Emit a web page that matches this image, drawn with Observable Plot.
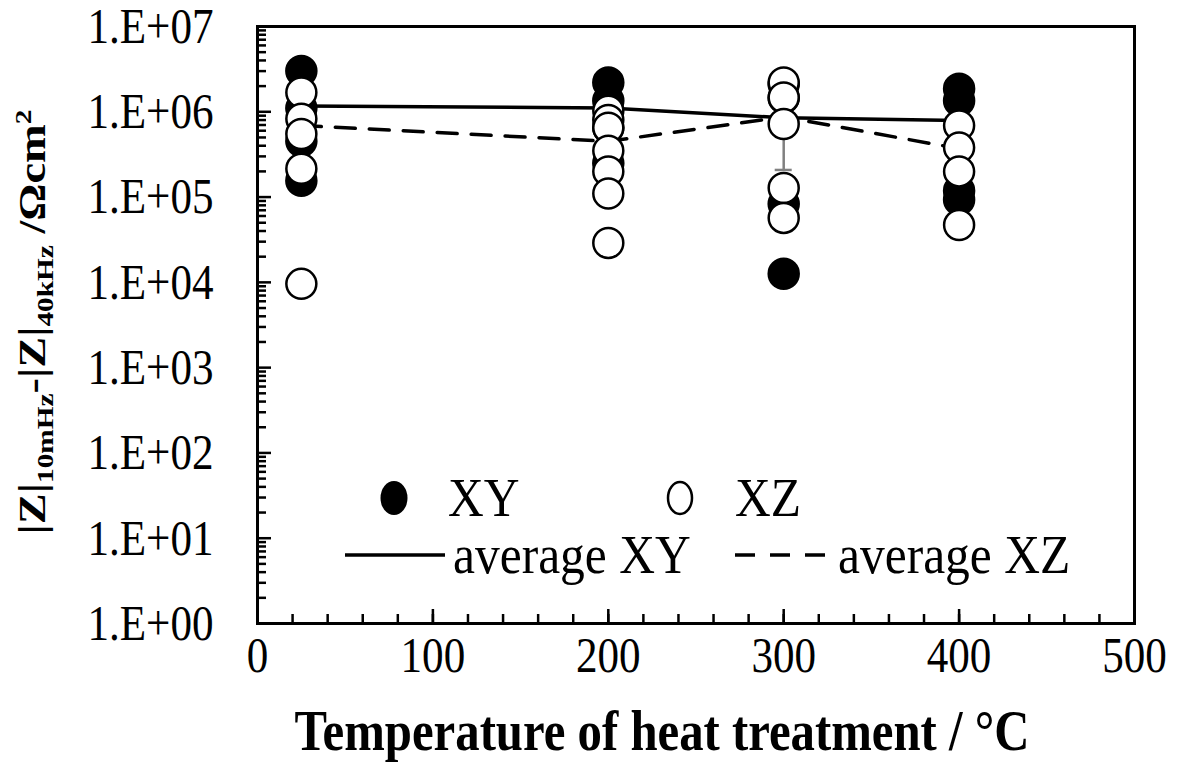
<!DOCTYPE html>
<html><head><meta charset="utf-8">
<script src="https://cdn.jsdelivr.net/npm/d3@7"></script>
<script src="https://cdn.jsdelivr.net/npm/@observablehq/plot@0.6"></script>
<style>html,body{margin:0;padding:0;background:#fff;}</style>
</head><body><div id="chart"></div>
<script>
// ---- data ----
const temps = [25, 200, 300, 400];
const xyValues = [
  [3.0e6, 1.1e6, 4.5e5, 1.55e5],
  [2.2e6, 1.35e6, 6.5e5, 2.5e5],
  [2.1e6, 1.45e6, 8.3e4, 1.26e4],
  [1.86e6, 1.35e6, 1.19e5, 9.3e4]
];
const xzValues = [
  [1.68e6, 8.3e5, 5.5e5, 2.15e5, 9.6e3],
  [1.03e6, 8.0e5, 6.5e5, 3.5e5, 2.0e5, 1.1e5, 2.9e4],
  [2.2e6, 1.47e6, 7.2e5, 1.28e5, 5.7e4],
  [6.9e5, 3.8e5, 2.0e5, 4.7e4]
];
const avgXY = [1.17e6, 1.11e6, 8.5e5, 7.9e5];
const avgXZ = [6.9e5, 4.5e5, 8.7e5, 3.7e5];
const errTemp = [300];
const errLow = [2.08e5];
const errHigh = [1.53e6];
const xTicks = [0, 100, 200, 300, 400, 500];
const xMinorTicks = d3.range(0, 501, 20);
const yTicks = [1, 10, 100, 1000, 1e4, 1e5, 1e6, 1e7];
const yTickLabels = ["1.E+00","1.E+01","1.E+02","1.E+03","1.E+04","1.E+05","1.E+06","1.E+07"];
const yMinorTicks = [];
for (let e = 0; e < 7; e++) for (let m = 2; m <= 9; m++) yMinorTicks.push(m * 10 ** e);

// ---- tables built from the arrays ----
const xyRows = temps.flatMap((t, i) => xyValues[i].map(v => ({t, v})));
const xzRows = temps.flatMap((t, i) => xzValues[i].map(v => ({t, v})));
const avgXYRows = temps.map((t, i) => ({t, v: avgXY[i]}));
const avgXZRows = temps.map((t, i) => ({t, v: avgXZ[i]}));
const errRows = errTemp.map((t, i) => ({t, lo: errLow[i], hi: errHigh[i]}));

const W = 1179, H = 763;
const mL = 257, mR = 45, mT = 26, mB = 140;
const fw = W - mL - mR, fh = H - mT - mB;
const FONT = "'Liberation Serif', 'Times New Roman', serif";

const svg = Plot.plot({
  width: W, height: H,
  marginLeft: mL, marginRight: mR, marginTop: mT, marginBottom: mB,
  style: {fontFamily: FONT, background: "white", overflow: "visible", color: "black"},
  x: {domain: [0, 500], axis: null},
  y: {type: "log", domain: [1, 1e7], axis: null},
  marks: [
    // ticks (inward)
    Plot.ruleX(xMinorTicks, {x: d => d, insetTop: fh - 9, stroke: "black", strokeWidth: 2.5}),
    Plot.ruleX(xTicks, {x: d => d, insetTop: fh - 14, stroke: "black", strokeWidth: 2.5}),
    Plot.ruleY(yMinorTicks, {y: d => d, insetRight: fw - 9, stroke: "black", strokeWidth: 2.5}),
    Plot.ruleY(yTicks, {y: d => d, insetRight: fw - 14, stroke: "black", strokeWidth: 2.5}),
    Plot.frame({stroke: "black", strokeWidth: 3}),
    // tick labels
    Plot.text(xTicks, {x: d => d, text: d => String(d), frameAnchor: "bottom", dy: 32, lineAnchor: "middle",
      fontSize: 51, fill: "black"}),
    Plot.text(yTicks, {y: d => d, text: (d, i) => yTickLabels[i], frameAnchor: "left", textAnchor: "end", dx: -44,
      lineAnchor: "middle", fontSize: 51, fill: "black"}),
    // averages
    Plot.line(avgXYRows, {x: "t", y: "v", stroke: "black", strokeWidth: 3.5}),
    Plot.line(avgXZRows, {x: "t", y: "v", stroke: "black", strokeWidth: 3.5, strokeDasharray: "20,14"}),
    // error bar
    Plot.ruleX(errRows, {x: "t", y1: "lo", y2: "hi", stroke: "#808080", strokeWidth: 2.5}),
    Plot.ruleY(errRows, {y: "lo", x1: "t", x2: "t", insetLeft: -8.5, insetRight: -8.5, stroke: "#808080", strokeWidth: 2.5}),
    // points
    Plot.dot(xyRows, {x: "t", y: "v", r: 15, fill: "black", stroke: "black", strokeWidth: 2.5}),
    Plot.dot(xzRows, {x: "t", y: "v", r: 15, fill: "white", stroke: "black", strokeWidth: 2.5})
  ]
});
document.getElementById("chart").appendChild(svg);

function squash(el, sx) {
  const b = el.getBBox();
  const anchor = getComputedStyle(el).textAnchor;
  const ax = anchor === "end" ? b.x + b.width : anchor === "middle" ? b.x + b.width / 2 : b.x;
  const t = el.getAttribute("transform") || "";
  el.setAttribute("transform", `${t} translate(${ax},0) scale(${sx},1) translate(${-ax},0)`);
}
// all texts so far are tick labels
Array.from(svg.querySelectorAll("text")).forEach(el => squash(el, 0.845));

const s = d3.select(svg);
// legend
const lg = s.append("g").attr("font-family", FONT).attr("font-size", 55).attr("fill", "black");
lg.append("ellipse").attr("cx", 394).attr("cy", 498).attr("rx", 13.5).attr("ry", 17).attr("fill", "black");
lg.append("ellipse").attr("cx", 680).attr("cy", 498).attr("rx", 12).attr("ry", 16).attr("fill", "white").attr("stroke", "black").attr("stroke-width", 2.5);
lg.append("line").attr("x1", 345).attr("x2", 445).attr("y1", 555).attr("y2", 555).attr("stroke", "black").attr("stroke-width", 3.5);
lg.append("line").attr("x1", 735).attr("x2", 825).attr("y1", 555).attr("y2", 555).attr("stroke", "black").attr("stroke-width", 3.5).attr("stroke-dasharray", "20,15");
const legTexts = [["XY", 448, 516], ["XZ", 735, 516], ["average XY", 453, 573], ["average XZ", 838, 573]];
legTexts.forEach(([t, x, y]) => {
  const el = lg.append("text").attr("x", x).attr("y", y).attr("text-anchor", "start").text(t).node();
  squash(el, 0.9);
});

// x title
const xt = s.append("text").attr("transform", "translate(662,750)").attr("text-anchor", "middle")
  .attr("font-family", FONT).attr("font-weight", "bold").attr("font-size", 58).attr("fill", "black")
  .text("Temperature of heat treatment / °C").node();
squash(xt, 735 / xt.getBBox().width);

// y title
const yt = s.append("text").attr("text-anchor", "middle")
  .attr("font-family", FONT).attr("font-weight", "bold").attr("font-size", 38).attr("fill", "black");
const parts = [["|Z|", 38, 0], ["10mHz", 24, 8], ["-", 38, -8], ["|Z|", 38, 0], ["40kHz", 24, 8], ["\u00A0/Ωcm", 38, -8], ["2", 24, -14]];
parts.forEach(([t, fs, dy]) => yt.append("tspan").attr("font-size", fs).attr("dy", dy).text(t));
const ytn = yt.node();
ytn.setAttribute("transform", `translate(45,322) rotate(-90) scale(${425 / ytn.getBBox().width},1)`);
</script>
</body></html>
